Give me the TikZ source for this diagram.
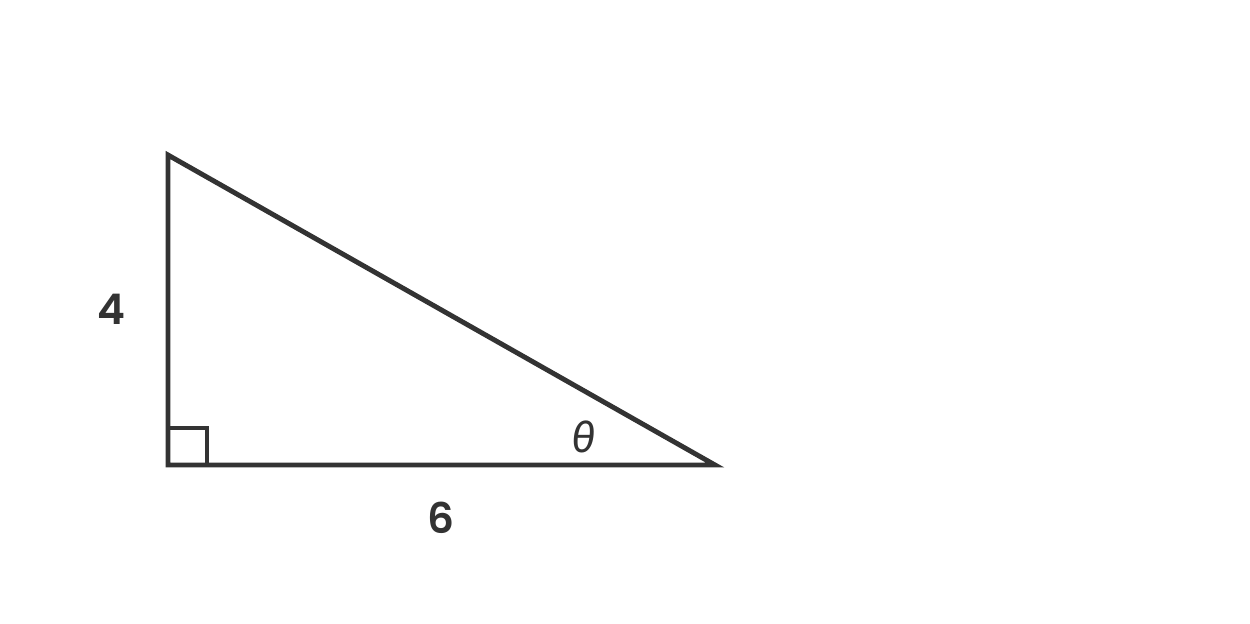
\documentclass[tikz,border=0pt]{standalone}
\usepackage{fontspec}
\setmainfont{Poppins}[BoldFont={Poppins SemiBold}]
\newfontfamily\greekfont{Fira Sans}
\definecolor{ink}{HTML}{333333}

\begin{document}
\begin{tikzpicture}[x=0.02cm, y=-0.02cm, ink, line width=2.8pt,
    side/.style={font=\bfseries\fontsize{24}{28}\selectfont, text=ink},
    angle/.style={font=\greekfont\itshape\fontsize{24}{28}\selectfont, text=ink}]
    \useasboundingbox (0, 0) rectangle (1250, 623);

    \coordinate (top) at (168, 155);
    \coordinate (corner) at (168, 465);
    \coordinate (tip) at (715, 465);

    \draw[line join=miter] (top) -- (corner) -- (tip) -- cycle;
    \draw (168, 428) -- (207, 428) -- (207, 465);

    \node[side] (four) at (111, 309) {4};
    \node[side] (six) at (441, 518) {6};
    \node[angle] (theta) at (584, 437) {θ};
\end{tikzpicture}
\end{document}
